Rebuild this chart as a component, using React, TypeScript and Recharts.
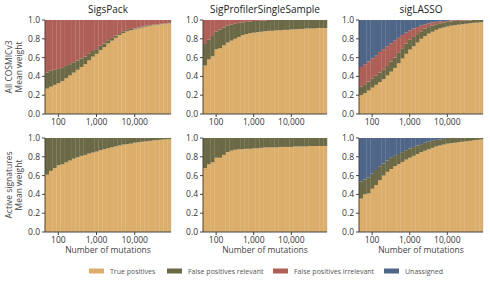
import { BarChart, Bar, XAxis, YAxis } from "recharts";

// mutation-count bins (10 per decade)
const nMutations = [
  50, 63, 79, 100, 126, 158, 200, 251, 316, 398, 501, 631, 794, 1000, 1259, 1585, 1995, 2512, 3162, 3981, 5012,
  6310, 7943, 10000, 12589, 15849, 19953, 25119, 31623, 39811, 50119, 63096, 79433,
];
const xTicks = [100, 1000, 10000];
const yTicks = [0, 0.2, 0.4, 0.6, 0.8, 1];

const methods = ["SigsPack", "SigProfilerSingleSample", "sigLASSO"];
const rowLabels = [["All COSMICv3", "Mean weight"], ["Active signatures", "Mean weight"]];

// All COSMICv3
const sigsPackAllTp = [0.27, 0.29, 0.31, 0.33, 0.35, 0.38, 0.41, 0.44, 0.47, 0.5, 0.53, 0.57, 0.61, 0.64, 0.68, 0.71, 0.75, 0.78, 0.81, 0.84, 0.86, 0.88, 0.89, 0.9, 0.91, 0.92, 0.93, 0.94, 0.945, 0.95, 0.955, 0.96, 0.965];
const sigsPackAllFpRel = [0.17, 0.17, 0.16, 0.15, 0.14, 0.13, 0.12, 0.11, 0.1, 0.09, 0.08, 0.07, 0.06, 0.05, 0.045, 0.04, 0.035, 0.03, 0.025, 0.02, 0.02, 0.015, 0.015, 0.01, 0.01, 0.01, 0.01, 0.008, 0.006, 0.005, 0.005, 0.004, 0.004];
const sigsPackAllFpIrr = [0.56, 0.54, 0.53, 0.52, 0.51, 0.49, 0.47, 0.45, 0.43, 0.41, 0.39, 0.36, 0.33, 0.31, 0.275, 0.25, 0.215, 0.19, 0.165, 0.14, 0.12, 0.105, 0.095, 0.09, 0.08, 0.07, 0.06, 0.052, 0.049, 0.045, 0.04, 0.036, 0.031];

const sigProfilerAllTp = [0.515, 0.58, 0.615, 0.69, 0.7, 0.73, 0.76, 0.78, 0.8, 0.82, 0.84, 0.85, 0.86, 0.865, 0.87, 0.875, 0.88, 0.885, 0.885, 0.89, 0.89, 0.895, 0.895, 0.9, 0.9, 0.905, 0.905, 0.91, 0.91, 0.91, 0.915, 0.915, 0.915];
const sigProfilerAllFpRel = [0.23, 0.21, 0.215, 0.185, 0.2, 0.19, 0.18, 0.17, 0.16, 0.15, 0.135, 0.13, 0.125, 0.125, 0.12, 0.12, 0.115, 0.115, 0.115, 0.11, 0.11, 0.105, 0.105, 0.1, 0.1, 0.095, 0.095, 0.09, 0.09, 0.09, 0.085, 0.085, 0.085];
const sigProfilerAllFpIrr = [0.255, 0.21, 0.17, 0.125, 0.1, 0.08, 0.06, 0.05, 0.04, 0.03, 0.025, 0.02, 0.015, 0.01, 0.01, 0.005, 0.005, 0, 0, 0, 0, 0, 0, 0, 0, 0, 0, 0, 0, 0, 0, 0, 0];

const sigLassoAllTp = [0.2, 0.22, 0.25, 0.28, 0.31, 0.34, 0.37, 0.41, 0.45, 0.49, 0.54, 0.59, 0.64, 0.685, 0.72, 0.76, 0.8, 0.83, 0.855, 0.875, 0.895, 0.91, 0.92, 0.93, 0.94, 0.945, 0.95, 0.955, 0.96, 0.965, 0.97, 0.972, 0.975];
const sigLassoAllFpRel = [0.09, 0.09, 0.095, 0.1, 0.1, 0.1, 0.1, 0.1, 0.11, 0.11, 0.11, 0.11, 0.11, 0.105, 0.1, 0.09, 0.08, 0.08, 0.07, 0.065, 0.06, 0.055, 0.055, 0.05, 0.045, 0.045, 0.04, 0.04, 0.035, 0.03, 0.03, 0.028, 0.025];
const sigLassoAllFpIrr = [0.21, 0.22, 0.215, 0.21, 0.21, 0.22, 0.22, 0.21, 0.19, 0.18, 0.16, 0.14, 0.115, 0.1, 0.09, 0.075, 0.06, 0.045, 0.04, 0.035, 0.025, 0.02, 0.015, 0.01, 0.01, 0.005, 0.01, 0.005, 0.005, 0.005, 0, 0, 0];
const sigLassoAllUnassigned = [0.5, 0.47, 0.44, 0.41, 0.38, 0.34, 0.31, 0.28, 0.25, 0.22, 0.19, 0.16, 0.135, 0.11, 0.09, 0.075, 0.06, 0.045, 0.035, 0.025, 0.02, 0.015, 0.01, 0.01, 0.005, 0.005, 0, 0, 0, 0, 0, 0, 0];

// Active signatures
const sigsPackActiveTp = [0.61, 0.65, 0.68, 0.71, 0.72, 0.74, 0.76, 0.78, 0.795, 0.81, 0.82, 0.835, 0.845, 0.855, 0.87, 0.88, 0.89, 0.9, 0.91, 0.92, 0.93, 0.935, 0.94, 0.95, 0.955, 0.96, 0.965, 0.97, 0.975, 0.978, 0.982, 0.985, 0.988];
const sigsPackActiveFpRel = [0.39, 0.35, 0.32, 0.29, 0.28, 0.26, 0.24, 0.22, 0.205, 0.19, 0.18, 0.165, 0.155, 0.145, 0.13, 0.12, 0.11, 0.1, 0.09, 0.08, 0.07, 0.065, 0.06, 0.05, 0.045, 0.04, 0.035, 0.03, 0.025, 0.022, 0.018, 0.015, 0.012];

const sigProfilerActiveTp = [0.68, 0.72, 0.74, 0.79, 0.79, 0.82, 0.85, 0.865, 0.875, 0.88, 0.88, 0.885, 0.885, 0.89, 0.89, 0.895, 0.9, 0.9, 0.9, 0.9, 0.905, 0.905, 0.905, 0.905, 0.91, 0.91, 0.91, 0.91, 0.915, 0.915, 0.915, 0.915, 0.915];
const sigProfilerActiveFpRel = [0.32, 0.28, 0.26, 0.21, 0.21, 0.18, 0.15, 0.135, 0.125, 0.12, 0.12, 0.115, 0.115, 0.11, 0.11, 0.105, 0.1, 0.1, 0.1, 0.1, 0.095, 0.095, 0.095, 0.095, 0.09, 0.09, 0.09, 0.09, 0.085, 0.085, 0.085, 0.085, 0.085];

const sigLassoActiveTp = [0.355, 0.4, 0.41, 0.46, 0.5, 0.55, 0.6, 0.64, 0.67, 0.7, 0.72, 0.745, 0.77, 0.79, 0.81, 0.83, 0.85, 0.865, 0.88, 0.895, 0.91, 0.92, 0.93, 0.94, 0.945, 0.95, 0.955, 0.96, 0.965, 0.97, 0.975, 0.98, 0.985];
const sigLassoActiveFpRel = [0.185, 0.16, 0.17, 0.16, 0.16, 0.15, 0.13, 0.12, 0.12, 0.11, 0.11, 0.105, 0.1, 0.1, 0.095, 0.09, 0.085, 0.085, 0.08, 0.075, 0.07, 0.065, 0.06, 0.06, 0.055, 0.05, 0.045, 0.04, 0.035, 0.03, 0.025, 0.02, 0.015];
const sigLassoActiveUnassigned = [0.46, 0.44, 0.42, 0.38, 0.34, 0.3, 0.27, 0.24, 0.21, 0.19, 0.17, 0.15, 0.13, 0.11, 0.095, 0.08, 0.065, 0.05, 0.04, 0.03, 0.02, 0.015, 0.01, 0, 0, 0, 0, 0, 0, 0, 0, 0, 0];

const series = [
  { key: "tp", name: "True positives", color: "#dcae6b" },
  { key: "fpRel", name: "False positives relevant", color: "#6b6946" },
  { key: "fpIrr", name: "False positives irrelevant", color: "#ae5f56" },
  { key: "unassigned", name: "Unassigned", color: "#4f6688" },
];

type Cols = { tp: number[]; fpRel: number[]; fpIrr?: number[]; unassigned?: number[] };

const build = (c: Cols) =>
  nMutations.map((n, i) => ({
    n,
    tp: c.tp[i],
    fpRel: c.fpRel[i],
    fpIrr: c.fpIrr ? c.fpIrr[i] : 0,
    unassigned: c.unassigned ? c.unassigned[i] : 0,
  }));

const panels = [
  [
    build({ tp: sigsPackAllTp, fpRel: sigsPackAllFpRel, fpIrr: sigsPackAllFpIrr }),
    build({ tp: sigProfilerAllTp, fpRel: sigProfilerAllFpRel, fpIrr: sigProfilerAllFpIrr }),
    build({ tp: sigLassoAllTp, fpRel: sigLassoAllFpRel, fpIrr: sigLassoAllFpIrr, unassigned: sigLassoAllUnassigned }),
  ],
  [
    build({ tp: sigsPackActiveTp, fpRel: sigsPackActiveFpRel }),
    build({ tp: sigProfilerActiveTp, fpRel: sigProfilerActiveFpRel }),
    build({ tp: sigLassoActiveTp, fpRel: sigLassoActiveFpRel, unassigned: sigLassoActiveUnassigned }),
  ],
];

const FONT = "'Open Sans', 'Noto Sans', sans-serif";
const colLeft = [15, 173, 329];
const colWidth = [160, 158, 158];
const rowTop = [15, 133];
const CH = 117;

function Panel({ data, left, top, width }: { data: any[]; left: number; top: number; width: number }) {
  return (
    <div style={{ position: "absolute", left, top }}>
      <BarChart
        width={width}
        height={CH}
        data={data}
        margin={{ top: 5, right: 4, left: 0, bottom: 0 }}
        barCategoryGap={0}
        barGap={0}
      >
        <XAxis
          dataKey="n"
          type="category"
          ticks={xTicks}
          interval={0}
          tickFormatter={(v: number) => v.toLocaleString("en-US")}
          height={18}
          tickSize={3}
          tick={{ fill: "#333", fontSize: 8.5, fontFamily: FONT }}
          stroke="#444"
        />
        <YAxis
          type="number"
          domain={[0, 1]}
          allowDataOverflow
          ticks={yTicks}
          tickFormatter={(v: number) => v.toFixed(1)}
          width={30}
          tickSize={3}
          tick={{ fill: "#333", fontSize: 8.5, fontFamily: FONT }}
          stroke="#444"
        />
        {series.map((s) => (
          <Bar key={s.key} dataKey={s.key} stackId="a" fill={s.color} isAnimationActive={false} />
        ))}
      </BarChart>
    </div>
  );
}

const legendX = [89, 167, 273, 384];

export default function App() {
  return (
    <div
      style={{
        position: "fixed",
        left: 0,
        top: 0,
        width: 490,
        height: 285,
        background: "#fff",
        fontFamily: FONT,
      }}
    >
      {panels.map((row, r) =>
        row.map((data, c) => (
          <Panel key={`${r}-${c}`} data={data} left={colLeft[c]} top={rowTop[r]} width={colWidth[c]} />
        ))
      )}
      <svg width={490} height={285} style={{ position: "absolute", left: 0, top: 0, pointerEvents: "none" }}>
        {methods.map((m, c) => (
          <text
            key={m}
            x={colLeft[c] + 30 + (colWidth[c] - 34) / 2}
            y={13}
            textAnchor="middle"
            fontSize={10}
            fill="#222"
            fontFamily={FONT}
          >
            {m}
          </text>
        ))}
        {rowLabels.map((lines, r) => {
          const cy = rowTop[r] + 5 + 47;
          return lines.map((t, k) => (
            <text
              key={t + r}
              x={12 + k * 10}
              y={cy}
              textAnchor="middle"
              fontSize={8.5}
              fill="#444"
              fontFamily={FONT}
              transform={`rotate(-90 ${12 + k * 10} ${cy})`}
            >
              {t}
            </text>
          ));
        })}
        {methods.map((m, c) => (
          <text
            key={"xl" + m}
            x={colLeft[c] + 30 + (colWidth[c] - 34) / 2}
            y={253}
            textAnchor="middle"
            fontSize={8.5}
            fill="#444"
            fontFamily={FONT}
          >
            Number of mutations
          </text>
        ))}
        {series.map((s, i) => (
          <g key={s.key}>
            <rect x={legendX[i]} y={268.5} width={15} height={5} fill={s.color} />
            <text x={legendX[i] + 21} y={274} fontSize={7} fill="#555" fontFamily={FONT}>
              {s.name}
            </text>
          </g>
        ))}
      </svg>
    </div>
  );
}
